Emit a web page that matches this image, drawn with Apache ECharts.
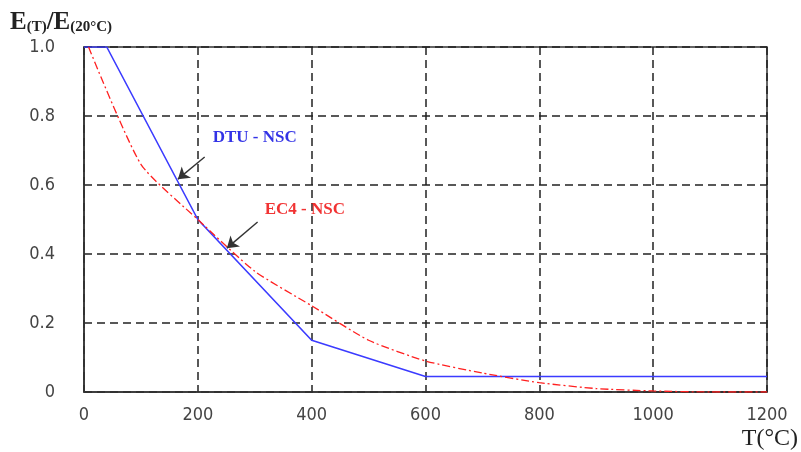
<!DOCTYPE html>
<html><head><meta charset="utf-8">
<script src="https://cdn.jsdelivr.net/npm/echarts@6/dist/echarts.min.js"></script>
<style>html,body{margin:0;padding:0;background:#fff}#c{width:801px;height:452px}</style>
</head><body><div id="c"></div>
<script>
const xTicks = [0, 200, 400, 600, 800, 1000, 1200];
const yTicks = [0, 0.2, 0.4, 0.6, 0.8, 1.0];
const dtuT = [0, 40, 200, 400, 600, 1200];
const dtuE = [1.0, 1.0, 0.5, 0.15, 0.045, 0.045];
const ec4T = [8, 100, 200, 300, 400, 500, 600, 700, 800, 900, 1000, 1100, 1200];
const ec4E = [1.0, 0.66, 0.5, 0.35, 0.25, 0.15, 0.09, 0.055, 0.027, 0.01, 0.003, 0.0, 0.0];
const labelDTU = {text: 'DTU - NSC', pos: [300, 0.736], arrowFrom: [212, 0.681], arrowTo: [165, 0.617]};
const labelEC4 = {text: 'EC4 - NSC', pos: [388, 0.528], arrowFrom: [305, 0.493], arrowTo: [251, 0.417]};

const chart = echarts.init(document.getElementById('c'));
const tickFont = {fontFamily: '"Liberation Sans Narrow","DejaVu Sans Condensed","Liberation Sans",sans-serif', fontSize: 18, color: '#444'};
const arrowLine = (l) => ({
  type: 'lines', coordinateSystem: 'cartesian2d', silent: true, z: 5,
  data: [{coords: [l.arrowFrom, l.arrowTo]}],
  lineStyle: {color: '#333', width: 1.4, opacity: 1},
  symbol: ['none', 'arrow'], symbolSize: 11
});
const labelPoint = (l, color) => ({
  type: 'scatter', symbolSize: 0, silent: true, z: 6,
  data: [l.pos],
  label: {show: true, position: 'inside', formatter: l.text, color: color, textBorderWidth: 0,
    fontFamily: '"Liberation Serif","DejaVu Serif",serif', fontWeight: 'bold', fontSize: 17}
});
chart.setOption({
  animation: false,
  grid: {left: 84, right: 34, top: 47, bottom: 60, show: true, borderColor: '#333', borderWidth: 1.5},
  xAxis: {
    type: 'value', min: 0, max: 1200, interval: 200,
    axisLine: {show: true, lineStyle: {color: '#333', width: 1.5}},
    axisTick: {show: false},
    axisLabel: Object.assign({margin: 14, formatter: v => String(v)}, tickFont),
    splitLine: {show: true, lineStyle: {color: '#222', type: [8, 5], width: 1.5}}
  },
  yAxis: {
    type: 'value', min: 0, max: 1, interval: 0.2,
    axisLine: {show: true, lineStyle: {color: '#333', width: 1.5}},
    axisTick: {show: false},
    axisLabel: Object.assign({margin: 29, formatter: v => v === 0 ? '0' : v.toFixed(1)}, tickFont),
    splitLine: {show: true, lineStyle: {color: '#222', type: [8, 5], width: 1.5}}
  },
  series: [
    {type: 'line', name: 'DTU - NSC', data: dtuT.map((t, i) => [t, dtuE[i]]), showSymbol: false,
     lineStyle: {color: '#3b3bff', width: 1.6}, z: 3},
    {type: 'line', name: 'EC4 - NSC', data: ec4T.map((t, i) => [t, ec4E[i]]), showSymbol: false, smooth: 0.2,
     lineStyle: {color: '#ff2020', width: 1.3, type: [8, 3, 2, 3]}, z: 4},
    arrowLine(labelDTU), arrowLine(labelEC4),
    labelPoint(labelDTU, '#0000e0'), labelPoint(labelEC4, '#ee0000')
  ],
  graphic: [
    {type: 'text', left: 10, top: 10, style: {
      text: '{a|E}{b|(T)}{a|/E}{b|(20°C)}',
      rich: {
        a: {fontFamily: '"Liberation Serif","DejaVu Serif",serif', fontSize: 25, fontWeight: 'bold', fill: '#222'},
        b: {fontFamily: '"Liberation Serif","DejaVu Serif",serif', fontSize: 15, fontWeight: 'bold', fill: '#222', verticalAlign: 'bottom', padding: [9, 0, 0, 0]}
      }}},
    {type: 'text', right: 3, bottom: 1, style: {
      text: 'T(°C)', fontFamily: '"Liberation Serif","DejaVu Serif",serif', fontSize: 24, fill: '#222'}}
  ]
});
</script></body></html>
